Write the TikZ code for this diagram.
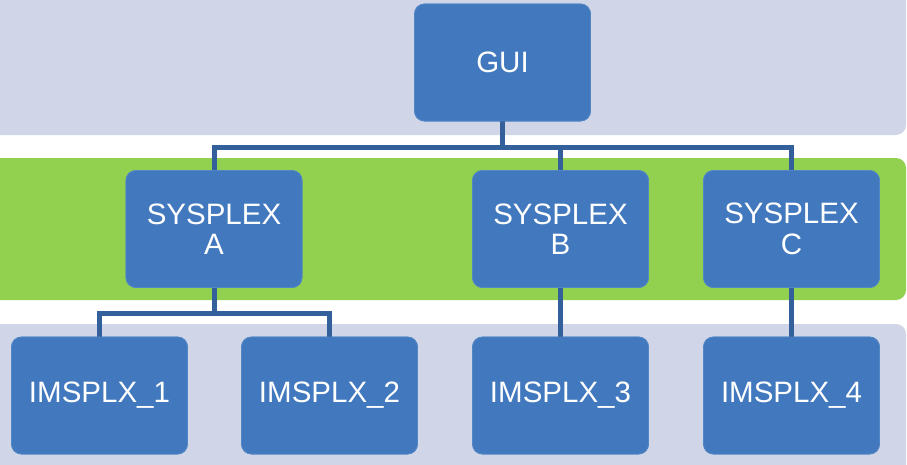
\documentclass[tikz,border=0pt]{standalone}
\usepackage{fontspec}
\setmainfont{Liberation Sans}
\definecolor{bandgray}{HTML}{D0D6E8}
\definecolor{bandgreen}{HTML}{92D050}
\definecolor{boxblue}{HTML}{4279BE}
\definecolor{boxedge}{HTML}{5287C6}
\definecolor{linkblue}{HTML}{335F9A}
\begin{document}
\begin{tikzpicture}[x=1pt,y=-1pt,
  band/.style={rounded corners=10pt},
  unit/.style={draw=boxedge,line width=0.8pt,fill=boxblue,rounded corners=10pt,
    minimum width=176pt,minimum height=117pt,inner sep=0pt,text=white,
    font=\fontsize{29.5}{30.5}\selectfont,align=center},
  link/.style={draw=linkblue,line width=5pt}]
\useasboundingbox (0,0) rectangle (907,464);
% bands
\fill[bandgray,band] (-20,-20) rectangle (906,135);
\fill[bandgreen,band] (-20,158) rectangle (906,300);
\fill[bandgray,band] (-20,324) rectangle (906,480);
% nodes
\node[unit] (gui) at (502.5,62.5) {GUI};
\node[unit] (sa) at (214,229) {SYSPLEX\\A};
\node[unit] (sb) at (560.5,229) {SYSPLEX\\B};
\node[unit] (sc) at (791.5,229) {SYSPLEX\\C};
\node[unit] (i1) at (99.5,395.5) {IMSPLX\_1};
\node[unit] (i2) at (329.5,395.5) {IMSPLX\_2};
\node[unit] (i3) at (560.5,395.5) {IMSPLX\_3};
\node[unit] (i4) at (791.5,395.5) {IMSPLX\_4};
% connectors
\coordinate (h1) at (0,147);
\coordinate (h2) at (0,313);
\draw[link] (gui.south) -- (gui.south |- h1);
\draw[link] (sa.north) -- (sa.north |- h1) -- (sc.north |- h1) -- (sc.north);
\draw[link] (sb.north |- h1) -- (sb.north);
\draw[link] (sa.south) -- (sa.south |- h2);
\draw[link] (i1.north) -- (i1.north |- h2) -- (i2.north |- h2) -- (i2.north);
\draw[link] (sb.south) -- (i3.north);
\draw[link] (sc.south) -- (i4.north);
% redraw nodes on top of connector ends
\node[unit] at (gui) {GUI};
\node[unit] at (sa) {SYSPLEX\\A};
\node[unit] at (sb) {SYSPLEX\\B};
\node[unit] at (sc) {SYSPLEX\\C};
\node[unit] at (i1) {IMSPLX\_1};
\node[unit] at (i2) {IMSPLX\_2};
\node[unit] at (i3) {IMSPLX\_3};
\node[unit] at (i4) {IMSPLX\_4};
\end{tikzpicture}
\end{document}
